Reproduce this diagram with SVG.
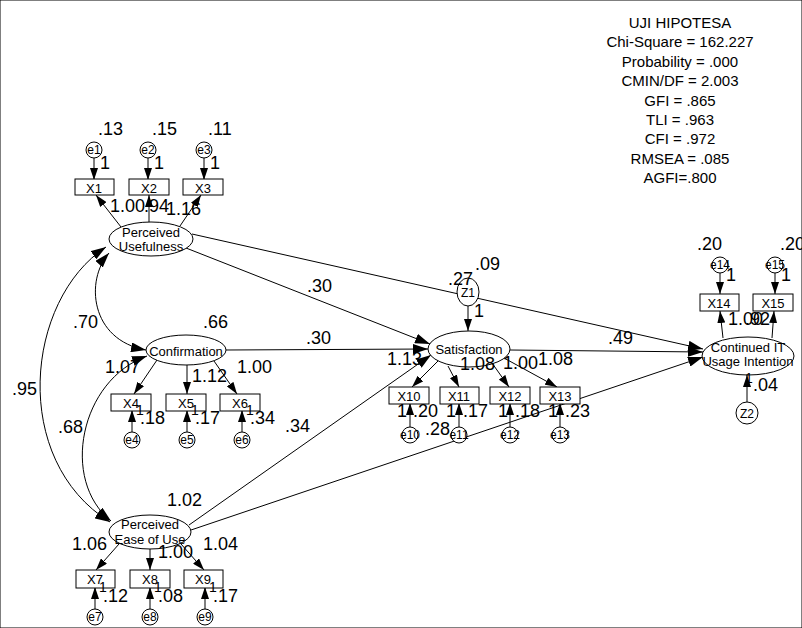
<svg xmlns="http://www.w3.org/2000/svg" width="802" height="628" viewBox="0 0 802 628">
<style>
text{font-family:"Liberation Sans",Arial,sans-serif;fill:#000}
.n{font-size:18px}
.s{font-size:14px}
.v{font-size:13px;text-anchor:middle}
.b{font-size:13px;text-anchor:middle}
.e{font-size:12px;text-anchor:middle}
.f{font-size:15px;text-anchor:middle}
ellipse,rect,circle{fill:#fff;stroke:#000;stroke-width:1}
.c line,.c path{stroke:#000;stroke-width:1;fill:none}
.ar{marker-end:url(#a)}
.br{marker-end:url(#b)}
.dc{marker-start:url(#b);marker-end:url(#b)}
</style>
<defs>
<marker id="a" viewBox="0 0 12 8" refX="12" refY="4" markerWidth="12" markerHeight="8" orient="auto" markerUnits="userSpaceOnUse"><path d="M0,0 L12,4 L0,8 z" fill="#000"/></marker>
<marker id="b" viewBox="0 0 15 10" refX="15" refY="5" markerWidth="15" markerHeight="10" orient="auto-start-reverse" markerUnits="userSpaceOnUse"><path d="M0,0 L15,5 L0,10 z" fill="#000"/></marker>
</defs>
<rect x="0" y="0" width="802" height="628" fill="#fff" stroke="none"/>

<g id="fit">
<text class="f" x="680" y="28">UJI HIPOTESA</text>
<text class="f" x="680" y="47">Chi-Square = 162.227</text>
<text class="f" x="680" y="67">Probability = .000</text>
<text class="f" x="680" y="86">CMIN/DF = 2.003</text>
<text class="f" x="680" y="106">GFI = .865</text>
<text class="f" x="680" y="125">TLI = .963</text>
<text class="f" x="680" y="144">CFI = .972</text>
<text class="f" x="680" y="164">RMSEA = .085</text>
<text class="f" x="680" y="183">AGFI=.800</text>
</g>

<g class="c" id="connectors">
<!-- errors to indicators -->
<line class="ar" x1="94" y1="158" x2="94" y2="180"/>
<line class="ar" x1="148" y1="158" x2="148" y2="180"/>
<line class="ar" x1="204" y1="158" x2="204" y2="180"/>
<line class="ar" x1="132" y1="432" x2="132" y2="410"/>
<line class="ar" x1="187" y1="432" x2="187" y2="410"/>
<line class="ar" x1="242" y1="432" x2="242" y2="410"/>
<line class="ar" x1="95" y1="609" x2="95" y2="587"/>
<line class="ar" x1="150" y1="609" x2="150" y2="587"/>
<line class="ar" x1="205" y1="609" x2="205" y2="587"/>
<line class="ar" x1="410" y1="427" x2="410" y2="403"/>
<line class="ar" x1="459" y1="427" x2="459" y2="403"/>
<line class="ar" x1="510" y1="427" x2="510" y2="403"/>
<line class="ar" x1="560" y1="427" x2="560" y2="403"/>
<line class="ar" x1="720" y1="273" x2="720" y2="294"/>
<line class="ar" x1="775" y1="273" x2="775" y2="294"/>
<!-- loadings -->
<line class="ar" x1="121" y1="227" x2="96" y2="195"/>
<line class="ar" x1="149" y1="222" x2="149" y2="195"/>
<line class="ar" x1="180" y1="226" x2="201" y2="195"/>
<line class="ar" x1="157" y1="360" x2="134" y2="394"/>
<line class="ar" x1="187" y1="365" x2="187" y2="394"/>
<line class="ar" x1="214" y1="361" x2="237" y2="394"/>
<line class="ar" x1="119" y1="544" x2="96" y2="570"/>
<line class="ar" x1="150" y1="549" x2="150" y2="570"/>
<line class="ar" x1="181" y1="544" x2="204" y2="570"/>
<line class="ar" x1="438" y1="361" x2="412" y2="387"/>
<line class="ar" x1="448" y1="366" x2="459" y2="387"/>
<line class="ar" x1="492" y1="363" x2="509" y2="387"/>
<line class="ar" x1="504" y1="358" x2="557" y2="387"/>
<line class="ar" x1="723" y1="338" x2="720" y2="311"/>
<line class="ar" x1="772" y1="338" x2="774" y2="311"/>
<!-- disturbances -->
<line class="ar" x1="468" y1="306" x2="468" y2="331"/>
<line class="ar" x1="747" y1="402" x2="747" y2="375"/>
<!-- structural paths -->
<line class="br" x1="186" y1="248" x2="430" y2="344"/>
<line class="br" x1="226" y1="350" x2="428" y2="349"/>
<line class="br" x1="189" y1="525" x2="431" y2="355"/>
<line class="br" x1="192" y1="234" x2="703" y2="349"/>
<line class="br" x1="510" y1="350" x2="703" y2="352"/>
<line class="br" x1="191" y1="530" x2="703" y2="357"/>
<!-- covariances -->
<path class="dc" d="M106,247 C25,300 10,460 110,522"/>
<path class="dc" d="M109,253 C85,280 90,340 146,350"/>
<path class="dc" d="M147,356 C80,380 60,480 111,521"/>
</g>

<g id="PU"><ellipse cx="151" cy="239" rx="42" ry="17"/><text class="v" x="151" y="237">Perceived</text><text class="v" x="151" y="251">Usefulness</text></g>
<g id="CONF"><ellipse cx="186" cy="350" rx="40" ry="15"/><text class="v" x="186" y="356">Confirmation</text></g>
<g id="PEOU"><ellipse cx="150" cy="532" rx="41" ry="17"/><text class="v" x="150" y="529">Perceived</text><text class="v" x="150" y="544">Ease of Use</text></g>
<g id="SAT"><ellipse cx="469" cy="349" rx="41" ry="18"/><text class="v" x="469" y="354">Satisfaction</text></g>
<g id="CIT"><ellipse cx="748" cy="356" rx="46" ry="19"/><text class="v" x="748" y="352">Continued IT</text><text class="v" x="748" y="366">Usage Intention</text></g>
<g id="Z1"><ellipse cx="468" cy="292" rx="11" ry="14"/><text class="e" x="468" y="297">Z1</text></g>
<g id="Z2"><circle cx="747" cy="413" r="11"/><text class="e" x="747" y="418">Z2</text></g>

<g id="X1"><rect x="75" y="179" width="39" height="16"/><text class="b" x="94" y="193">X1</text></g>
<g id="X2"><rect x="129" y="179" width="40" height="16"/><text class="b" x="149" y="193">X2</text></g>
<g id="X3"><rect x="183" y="179" width="40" height="16"/><text class="b" x="203" y="193">X3</text></g>
<g id="X4"><rect x="111" y="394" width="40" height="17"/><text class="b" x="131" y="408">X4</text></g>
<g id="X5"><rect x="166" y="394" width="40" height="17"/><text class="b" x="186" y="408">X5</text></g>
<g id="X6"><rect x="220" y="394" width="40" height="17"/><text class="b" x="240" y="408">X6</text></g>
<g id="X7"><rect x="76" y="570" width="39" height="18"/><text class="b" x="95" y="584">X7</text></g>
<g id="X8"><rect x="130" y="570" width="40" height="18"/><text class="b" x="150" y="584">X8</text></g>
<g id="X9"><rect x="184" y="570" width="39" height="18"/><text class="b" x="203" y="584">X9</text></g>
<g id="X10"><rect x="389" y="387" width="40" height="17"/><text class="b" x="409" y="401">X10</text></g>
<g id="X11"><rect x="440" y="387" width="39" height="17"/><text class="b" x="459" y="401">X11</text></g>
<g id="X12"><rect x="490" y="387" width="40" height="17"/><text class="b" x="510" y="401">X12</text></g>
<g id="X13"><rect x="540" y="387" width="40" height="17"/><text class="b" x="560" y="401">X13</text></g>
<g id="X14"><rect x="700" y="294" width="39" height="17"/><text class="b" x="719" y="308">X14</text></g>
<g id="X15"><rect x="753" y="294" width="40" height="17"/><text class="b" x="773" y="308">X15</text></g>

<g id="e1"><circle cx="94" cy="150" r="8"/><text class="e" x="94" y="154">e1</text></g>
<g id="e2"><circle cx="148" cy="150" r="8"/><text class="e" x="148" y="154">e2</text></g>
<g id="e3"><circle cx="204" cy="150" r="8"/><text class="e" x="204" y="154">e3</text></g>
<g id="e4"><circle cx="132" cy="440" r="8"/><text class="e" x="132" y="444">e4</text></g>
<g id="e5"><circle cx="187" cy="440" r="8"/><text class="e" x="187" y="444">e5</text></g>
<g id="e6"><circle cx="242" cy="440" r="8"/><text class="e" x="242" y="444">e6</text></g>
<g id="e7"><circle cx="95" cy="617" r="8"/><text class="e" x="95" y="621">e7</text></g>
<g id="e8"><circle cx="150" cy="617" r="8"/><text class="e" x="150" y="621">e8</text></g>
<g id="e9"><circle cx="205" cy="617" r="8"/><text class="e" x="205" y="621">e9</text></g>
<g id="e10"><circle cx="410" cy="435" r="8"/><text class="e" x="410" y="439">e10</text></g>
<g id="e11"><circle cx="459" cy="435" r="8"/><text class="e" x="459" y="439">e11</text></g>
<g id="e12"><circle cx="510" cy="435" r="8"/><text class="e" x="510" y="439">e12</text></g>
<g id="e13"><circle cx="560" cy="435" r="8"/><text class="e" x="560" y="439">e13</text></g>
<g id="e14"><circle cx="720" cy="265" r="8"/><text class="e" x="720" y="269">e14</text></g>
<g id="e15"><circle cx="775" cy="265" r="8"/><text class="e" x="775" y="269">e15</text></g>

<g id="labels">
<text class="n" x="98" y="135">.13</text>
<text class="n" x="152" y="135">.15</text>
<text class="n" x="208" y="135">.11</text>
<text class="n" x="100" y="169">1</text>
<text class="n" x="154" y="169">1</text>
<text class="n" x="210" y="169">1</text>
<text class="n" x="110" y="212">1.00</text>
<text class="n" x="144" y="212">.94</text>
<text class="n" x="166" y="215">1.16</text>
<text class="n" x="203" y="328">.66</text>
<text class="n" x="105" y="373">1.07</text>
<text class="n" x="192" y="382">1.12</text>
<text class="n" x="237" y="373">1.00</text>
<text class="s" x="136" y="415">1</text>
<text class="n" x="140" y="424">.18</text>
<text class="s" x="191" y="415">1</text>
<text class="n" x="195" y="424">.17</text>
<text class="s" x="246" y="415">1</text>
<text class="n" x="250" y="424">.34</text>
<text class="n" x="73" y="328">.70</text>
<text class="n" x="12" y="395">.95</text>
<text class="n" x="58" y="433">.68</text>
<text class="n" x="167" y="506">1.02</text>
<text class="n" x="72" y="550">1.06</text>
<text class="n" x="158" y="558">1.00</text>
<text class="n" x="203" y="550">1.04</text>
<text class="s" x="99" y="592">1</text>
<text class="n" x="103" y="602">.12</text>
<text class="s" x="154" y="592">1</text>
<text class="n" x="158" y="602">.08</text>
<text class="s" x="209" y="592">1</text>
<text class="n" x="213" y="602">.17</text>
<text class="n" x="307" y="292">.30</text>
<text class="n" x="306" y="344">.30</text>
<text class="n" x="285" y="432">.34</text>
<text class="n" x="448" y="285">.27</text>
<text class="n" x="475" y="270">.09</text>
<text class="n" x="474" y="317">1</text>
<text class="n" x="387" y="365">1.13</text>
<text class="n" x="460" y="370">1.08</text>
<text class="n" x="503" y="369">1.00</text>
<text class="n" x="538" y="365">1.08</text>
<text class="n" x="397" y="417">1</text>
<text class="n" x="413" y="417">.20</text>
<text class="n" x="425" y="435">.28</text>
<text class="n" x="446" y="417">1</text>
<text class="n" x="463" y="417">.17</text>
<text class="n" x="498" y="417">1</text>
<text class="n" x="515" y="417">.18</text>
<text class="n" x="548" y="417">1</text>
<text class="n" x="565" y="417">.23</text>
<text class="n" x="608" y="344">.49</text>
<text class="n" x="697" y="250">.20</text>
<text class="n" x="780" y="250">.20</text>
<text class="n" x="726" y="281">1</text>
<text class="n" x="781" y="281">1</text>
<text class="n" x="728" y="325">1.00</text>
<text class="n" x="745" y="325">.92</text>
<text class="s" x="745" y="383">1</text>
<text class="n" x="753" y="391">.04</text>
</g>
</svg>
